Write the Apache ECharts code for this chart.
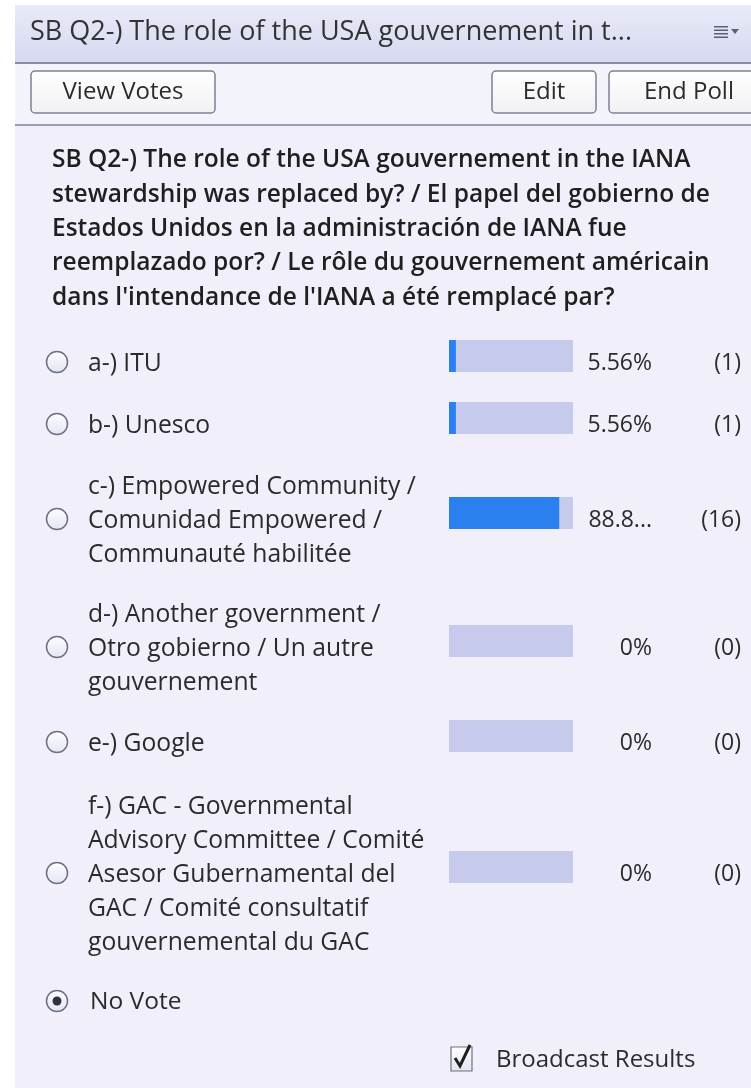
<!DOCTYPE html>
<html>
<head>
<meta charset="utf-8">
<script src="https://cdn.jsdelivr.net/npm/echarts@6/dist/echarts.min.js"></script>
<style>
  html, body { margin: 0; padding: 0; background: #ffffff; }
  #chart { width: 751px; height: 1088px; }
</style>
</head>
<body>
<div id="chart"></div>
<script>
// poll data
const panelTitle = 'SB Q2-) The role of the USA gouvernement in t...';
const question = [
  'SB Q2-) The role of the USA gouvernement in the IANA',
  'stewardship was replaced by? / El papel del gobierno de',
  'Estados Unidos en la administración de IANA fue',
  'reemplazado por? / Le rôle du gouvernement américain',
  "dans l'intendance de l'IANA a été remplacé par?"
];
const options = [
  'a-) ITU',
  'b-) Unesco',
  'c-) Empowered Community /\nComunidad Empowered /\nCommunauté habilitée',
  'd-) Another government /\nOtro gobierno / Un autre\ngouvernement',
  'e-) Google',
  'f-) GAC - Governmental\nAdvisory Committee / Comité\nAsesor Gubernamental del\nGAC / Comité consultatif\ngouvernemental du GAC'
];
const votes = [1, 1, 16, 0, 0, 0];
const percents = [5.56, 5.56, 88.89, 0, 0, 0];
const percentLabels = ['5.56%', '5.56%', '88.8...', '0%', '0%', '0%'];

// layout: vertical centre of each bar row
const rowCenters = [356, 418, 513, 641, 736, 867];
const BAR_LEFT = 449;
const BAR_W = 124;
const BAR_H = 32;
const TEXT_DROP = 6;

const FONT = '"Open Sans", "Noto Sans", sans-serif';
const TEXT = '#2b2b2b';

const chart = echarts.init(document.getElementById('chart'), null, { renderer: 'canvas' });

function radio(cx, cy, checked) {
  const els = [{
    type: 'circle',
    shape: { cx: cx, cy: cy, r: 10.5 },
    style: {
      fill: new echarts.graphic.LinearGradient(0, 0, 0, 1, [
        { offset: 0, color: '#ffffff' }, { offset: 1, color: '#e2e4f2' }
      ]),
      stroke: '#6c7084', lineWidth: 1.5
    }
  }];
  if (checked) {
    els.push({ type: 'circle', shape: { cx: cx, cy: cy, r: 4.5 }, style: { fill: '#2e3140' } });
  }
  return els;
}

function button(x, w, label) {
  return [{
    type: 'rect',
    shape: { x: x, y: 71, width: w, height: 42, r: 4 },
    style: {
      fill: new echarts.graphic.LinearGradient(0, 0, 0, 1, [
        { offset: 0, color: '#ffffff' }, { offset: 1, color: '#f1f1f5' }
      ]),
      stroke: '#7d8191', lineWidth: 1.5
    }
  }, {
    type: 'text',
    x: x + w / 2, y: 92,
    style: { text: label, font: '24px ' + FONT, fill: TEXT, align: 'center', verticalAlign: 'middle' }
  }];
}

const graphics = [
  // panel chrome
  { type: 'rect', shape: { x: 15, y: 5, width: 736, height: 57 },
    style: { fill: new echarts.graphic.LinearGradient(0, 0, 0, 1, [
      { offset: 0, color: '#e9eaf8' }, { offset: 1, color: '#d6d9f1' }]) } },
  { type: 'rect', shape: { x: 15, y: 62, width: 736, height: 2 }, style: { fill: '#8a8ea3' } },
  { type: 'rect', shape: { x: 15, y: 64, width: 736, height: 60 }, style: { fill: '#f3f3fb' } },
  { type: 'rect', shape: { x: 15, y: 124, width: 736, height: 2 }, style: { fill: '#9a9db1' } },
  { type: 'rect', shape: { x: 15, y: 126, width: 736, height: 962 }, style: { fill: '#f0effa' } },
  { type: 'text', x: 30, y: 32,
    style: { text: panelTitle, font: '27px ' + FONT, fill: '#333333', verticalAlign: 'middle' } },
  // menu icon
  { type: 'rect', shape: { x: 714, y: 26, width: 14, height: 1.5 }, style: { fill: '#5c6072' } },
  { type: 'rect', shape: { x: 714, y: 29.5, width: 14, height: 1.5 }, style: { fill: '#5c6072' } },
  { type: 'rect', shape: { x: 714, y: 33, width: 14, height: 1.5 }, style: { fill: '#5c6072' } },
  { type: 'rect', shape: { x: 714, y: 36.5, width: 14, height: 1.5 }, style: { fill: '#5c6072' } },
  { type: 'polygon', shape: { points: [[731, 29], [739, 29], [735, 34]] }, style: { fill: '#5c6072' } },
  ...button(31, 184, 'View Votes'),
  ...button(492, 104, 'Edit'),
  ...button(609, 160, 'End Poll'),
  // question
  { type: 'text', x: 52, y: 143,
    style: { text: question.join('\n'), font: '600 24.5px ' + FONT, fill: '#1f1f1f', lineHeight: 34.4 } },
  // no vote + broadcast
  ...radio(57, 1001, true),
  { type: 'text', x: 90, y: 1002,
    style: { text: 'No Vote', font: '24.5px ' + FONT, fill: TEXT, verticalAlign: 'middle' } },
  { type: 'rect', shape: { x: 451, y: 1047, width: 21, height: 24 },
    style: { fill: new echarts.graphic.LinearGradient(0, 0, 0, 1, [
      { offset: 0, color: '#ffffff' }, { offset: 1, color: '#e2e4f0' }]), stroke: '#6c7084', lineWidth: 1.2 } },
  { type: 'polyline', shape: { points: [[455, 1058], [460, 1066], [470, 1045]] },
    style: { stroke: '#1f1f1f', lineWidth: 3, fill: null } },
  { type: 'text', x: 496, y: 1060,
    style: { text: 'Broadcast Results', font: '24px ' + FONT, fill: TEXT, verticalAlign: 'middle' } }
];

rowCenters.forEach(function (c) {
  graphics.push(...radio(57, c + TEXT_DROP, false));
});

const grids = [];
const xAxes = [];
const yAxes = [];
const series = [];

options.forEach(function (label, i) {
  grids.push({
    left: BAR_LEFT, width: BAR_W, top: rowCenters[i] - BAR_H / 2, height: BAR_H,
    containLabel: false, outerBoundsMode: 'none'
  });
  xAxes.push({ gridIndex: i, type: 'value', min: 0, max: 100, show: false });
  // option text on the left
  yAxes.push({
    gridIndex: i, type: 'category', data: [label], position: 'left',
    axisLine: { show: false }, axisTick: { show: false }, splitLine: { show: false },
    axisLabel: {
      align: 'left', verticalAlign: 'middle', margin: BAR_LEFT - 88,
      padding: [TEXT_DROP * 2 + 4, 0, 0, 0],
      formatter: function (v) { return '{t|' + v + '}'; },
      rich: {
        t: { color: TEXT, fontFamily: FONT, fontSize: 24.7, lineHeight: 34 }
      }
    }
  });
  // percent + count on the right
  yAxes.push({
    gridIndex: i, type: 'category', data: [percentLabels[i]], position: 'right',
    axisLine: { show: false }, axisTick: { show: false }, splitLine: { show: false },
    axisLabel: {
      align: 'left', verticalAlign: 'middle', margin: 12,
      padding: [TEXT_DROP * 2 + 2, 0, 0, 0],
      formatter: function (v) { return '{p|' + v + '}{c|(' + votes[i] + ')}'; },
      rich: {
        p: { width: 67, align: 'right', color: TEXT, fontFamily: FONT, fontSize: 23 },
        c: { width: 89, align: 'right', color: TEXT, fontFamily: FONT, fontSize: 23 }
      }
    }
  });
  series.push({
    type: 'bar', xAxisIndex: i, yAxisIndex: i * 2,
    data: [percents[i]], barWidth: BAR_H,
    showBackground: true,
    backgroundStyle: { color: '#c6cbee' },
    itemStyle: { color: '#2b80f0' },
    silent: true, animation: false
  });
});

chart.setOption({
  backgroundColor: '#ffffff',
  animation: false,
  grid: grids,
  xAxis: xAxes,
  yAxis: yAxes,
  series: series,
  graphic: { elements: graphics }
});
</script>
</body>
</html>
